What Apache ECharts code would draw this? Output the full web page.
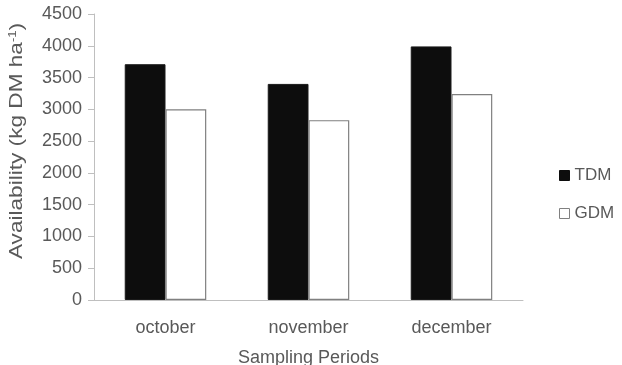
<!DOCTYPE html>
<html><head><meta charset="utf-8">
<script src="https://cdn.jsdelivr.net/npm/echarts@6/dist/echarts.min.js"></script>
<style>html,body{margin:0;padding:0;background:#fff}#c{width:622px;height:365px}</style>
</head><body><div id="c"></div>
<script>
var categories = ['october', 'november', 'december'];
var tdm = [3710, 3400, 3990];
var gdm = [3000, 2830, 3240];
var yTicks = [0, 500, 1000, 1500, 2000, 2500, 3000, 3500, 4000, 4500];

var font = 'Liberation Sans, Arial, sans-serif';
var txt = '#595959';
var chart = echarts.init(document.getElementById('c'));
chart.setOption({
  animation: false,
  backgroundColor: '#fff',
  grid: {left: 94, right: 99, top: 14, bottom: 65, outerBoundsMode: 'none', containLabel: false},
  legend: {
    orient: 'vertical', left: 554, top: 162, itemWidth: 10, itemHeight: 10, itemGap: 21,
    textStyle: {color: txt, fontSize: 17, fontFamily: font},
    data: [
      {name: 'TDM', icon: 'rect', itemStyle: {color: '#0d0d0d', borderColor: '#0d0d0d', borderWidth: 1}},
      {name: 'GDM', icon: 'rect', itemStyle: {color: '#fff', borderColor: '#808080', borderWidth: 1}}
    ]
  },
  xAxis: {
    type: 'category', data: categories,
    name: 'Sampling Periods', nameLocation: 'middle', nameGap: 49,
    nameTextStyle: {color: txt, fontSize: 18, fontFamily: font},
    axisLine: {lineStyle: {color: '#bfbfbf', width: 1}},
    axisTick: {show: false},
    axisLabel: {color: txt, fontSize: 18, fontFamily: font, margin: 19}
  },
  yAxis: {
    type: 'value', min: yTicks[0], max: yTicks[yTicks.length - 1], interval: 500,
    axisLine: {show: true, lineStyle: {color: '#bfbfbf', width: 1}},
    axisTick: {show: true, length: 6, lineStyle: {color: '#bfbfbf'}},
    splitLine: {show: false},
    axisLabel: {color: txt, fontSize: 18, fontFamily: font, margin: 12,
      formatter: function (v) { return String(v); }}
  },
  graphic: [{
    type: 'text', x: 17, y: 141, rotation: Math.PI / 2, scaleX: 1.19,
    style: {
      text: '{a|Availability (kg DM ha}{s|-1}{a|)}',
      align: 'center', verticalAlign: 'middle',
      rich: {
        a: {fontSize: 19, fontFamily: font, fill: txt, color: txt},
        s: {fontSize: 11, fontFamily: font, fill: txt, color: txt, verticalAlign: 'top', padding: [0, 0, 9, 0]}
      }
    }
  }],
  series: [
    {name: 'TDM', type: 'bar', data: tdm, barGap: '0%', barCategoryGap: '43%',
     itemStyle: {color: '#0d0d0d', borderColor: '#1a1a1a', borderWidth: 1}},
    {name: 'GDM', type: 'bar', data: gdm,
     itemStyle: {color: '#fff', borderColor: '#808080', borderWidth: 1.2}}
  ]
});
</script></body></html>
